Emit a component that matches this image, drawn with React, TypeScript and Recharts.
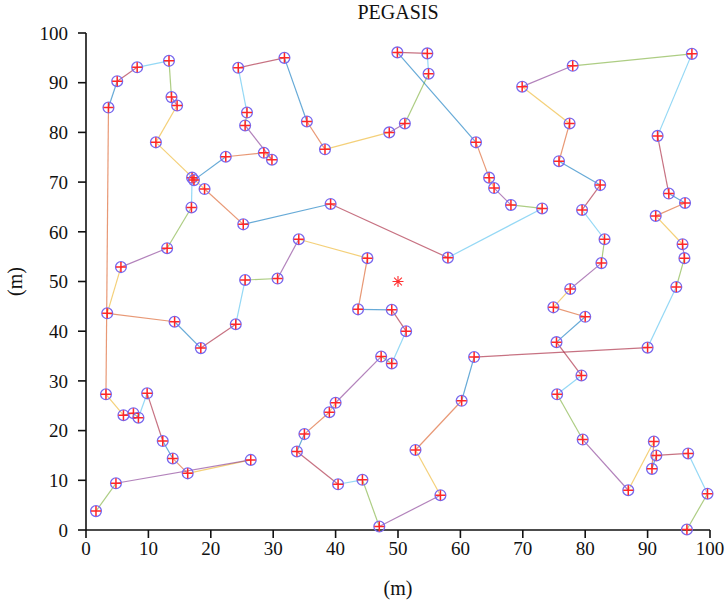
import React from 'react';
import { ScatterChart, Scatter, XAxis, YAxis } from 'recharts';

// Sensor node positions (m), listed in PEGASIS chain order
const NODE_X = [
  96.3, 99.6, 96.5, 91.4, 90.7, 91.0, 86.9, 79.6, 75.5, 79.4,
  75.4, 80.0, 74.9, 77.6, 82.6, 83.1, 79.5, 82.4, 75.8, 77.5,
  69.9, 78.0, 97.1, 91.6, 93.4, 96.0, 91.3, 95.6, 95.9, 94.6,
  90.0, 62.2, 60.2, 52.8, 56.8, 47.0, 44.3, 40.4, 33.8, 35.0,
  39.0, 40.0, 47.3, 49.0, 51.3, 49.0, 43.6, 45.1, 34.1, 30.7,
  25.5, 24.0, 18.4, 14.2, 3.4, 5.6, 13.0, 16.9, 17.0, 17.3,
  22.4, 28.5, 29.8, 25.5, 25.8, 24.4, 31.8, 35.4, 38.3, 48.6,
  51.1, 54.9, 54.7, 49.9, 62.5, 64.6, 65.4, 68.1, 73.1, 58.0,
  39.2, 25.2, 19.0, 11.2, 14.6, 13.7, 13.3, 8.2, 5.0, 3.6,
  3.2, 6.0, 7.6, 8.4, 9.8, 12.3, 13.9, 16.3, 26.4, 4.8,
  1.6,
];
const NODE_Y = [
  0.1, 7.3, 15.4, 15.0, 12.3, 17.8, 8.0, 18.2, 27.3, 31.1,
  37.8, 42.9, 44.8, 48.5, 53.7, 58.5, 64.4, 69.4, 74.2, 81.8,
  89.2, 93.4, 95.8, 79.3, 67.7, 65.8, 63.2, 57.5, 54.7, 48.9,
  36.7, 34.8, 26.0, 16.1, 7.0, 0.7, 10.1, 9.2, 15.8, 19.3,
  23.7, 25.6, 34.9, 33.5, 40.0, 44.3, 44.4, 54.7, 58.5, 50.6,
  50.3, 41.4, 36.6, 41.9, 43.6, 52.9, 56.7, 64.9, 70.9, 70.4,
  75.1, 75.9, 74.5, 81.4, 84.0, 93.0, 95.0, 82.2, 76.6, 80.0,
  81.8, 91.8, 95.9, 96.1, 78.0, 70.9, 68.8, 65.4, 64.7, 54.8,
  65.6, 61.5, 68.6, 78.0, 85.4, 87.1, 94.4, 93.1, 90.3, 85.0,
  27.3, 23.1, 23.5, 22.6, 27.5, 17.9, 14.4, 11.4, 14.1, 9.4,
  3.8,
];
// Base station
const SINK_X = [50];
const SINK_Y = [50];

const TICKS = [0, 10, 20, 30, 40, 50, 60, 70, 80, 90, 100];

// style (MATLAB colour order)
const PALETTE = ['#0072BD', '#D95319', '#EDB120', '#7E2F8E', '#77AC30', '#4DBEEE', '#A2142F'];

const nodes = NODE_X.map((x, i) => ({ x, y: NODE_Y[i] }));
const sink = SINK_X.map((x, i) => ({ x, y: SINK_Y[i] }));
const segments = nodes.slice(0, -1).map((p, i) => ({
  data: [p, nodes[i + 1]],
  color: PALETTE[(i + (i <= 82 ? 4 : 3)) % 7],
}));

const FONT = '"Liberation Serif", "DejaVu Serif", serif';

const NodeShape = (props: any) => {
  const { cx, cy } = props;
  if (cx == null || cy == null) return <g />;
  return (
    <g>
      <circle cx={cx} cy={cy} r={5.4} fill="none" stroke="#7868ee" strokeWidth={1.3} />
      <path
        d={`M${cx - 5},${cy}H${cx + 5}M${cx},${cy - 5}V${cy + 5}`}
        stroke="#ff2626"
        strokeWidth={1.5}
      />
    </g>
  );
};

const SinkShape = (props: any) => {
  const { cx, cy } = props;
  if (cx == null || cy == null) return <g />;
  const a = 5.5;
  const d = 3.9;
  return (
    <path
      d={`M${cx - a},${cy}H${cx + a}M${cx},${cy - a}V${cy + a}M${cx - d},${cy - d}L${cx + d},${cy + d}M${cx - d},${cy + d}L${cx + d},${cy - d}`}
      stroke="#ff3030"
      strokeWidth={1.1}
      fill="none"
    />
  );
};

const Empty = () => <g />;

export default function App() {
  const tickStyle = { fill: '#111', fontFamily: FONT, fontSize: 19 };
  return (
    <div style={{ position: 'absolute', left: 0, top: 0, width: 725, height: 605, background: '#fff' }}>
      <div
        style={{
          position: 'absolute',
          left: 298,
          width: 200,
          top: 1,
          textAlign: 'center',
          fontFamily: FONT,
          fontSize: 20,
          color: '#111',
        }}
      >
        PEGASIS
      </div>
      <div
        style={{
          position: 'absolute',
          left: 298,
          width: 200,
          top: 577,
          textAlign: 'center',
          fontFamily: FONT,
          fontSize: 20,
          color: '#111',
        }}
      >
        (m)
      </div>
      <div
        style={{
          position: 'absolute',
          left: -85,
          width: 200,
          top: 270,
          textAlign: 'center',
          fontFamily: FONT,
          fontSize: 20,
          color: '#111',
          transform: 'rotate(-90deg)',
        }}
      >
        (m)
      </div>
      <div style={{ position: 'absolute', left: 0, top: 0 }}>
        <ScatterChart width={725} height={605} margin={{ top: 33, right: 15, bottom: 35, left: 0 }}>
          <XAxis
            type="number"
            dataKey="x"
            domain={[0, 100]}
            ticks={TICKS}
            interval={0}
            height={40}
            tickSize={8}
            tickMargin={4}
            axisLine={{ stroke: '#111', strokeWidth: 1.6 }}
            tickLine={{ stroke: '#111', strokeWidth: 1.6 }}
            tick={tickStyle}
          />
          <YAxis
            type="number"
            dataKey="y"
            domain={[0, 100]}
            ticks={TICKS}
            interval={0}
            width={86}
            tickSize={8}
            tickMargin={10}
            axisLine={{ stroke: '#111', strokeWidth: 1.6 }}
            tickLine={{ stroke: '#111', strokeWidth: 1.6 }}
            tick={tickStyle}
          />
          {segments.map((s, i) => (
            <Scatter
              key={`seg-${i}`}
              data={s.data}
              line={{ stroke: s.color, strokeWidth: 1.2, strokeOpacity: 0.6 }}
              shape={Empty}
              isAnimationActive={false}
            />
          ))}
          <Scatter data={nodes} shape={NodeShape} isAnimationActive={false} />
          <Scatter data={sink} shape={SinkShape} isAnimationActive={false} />
        </ScatterChart>
      </div>
    </div>
  );
}
